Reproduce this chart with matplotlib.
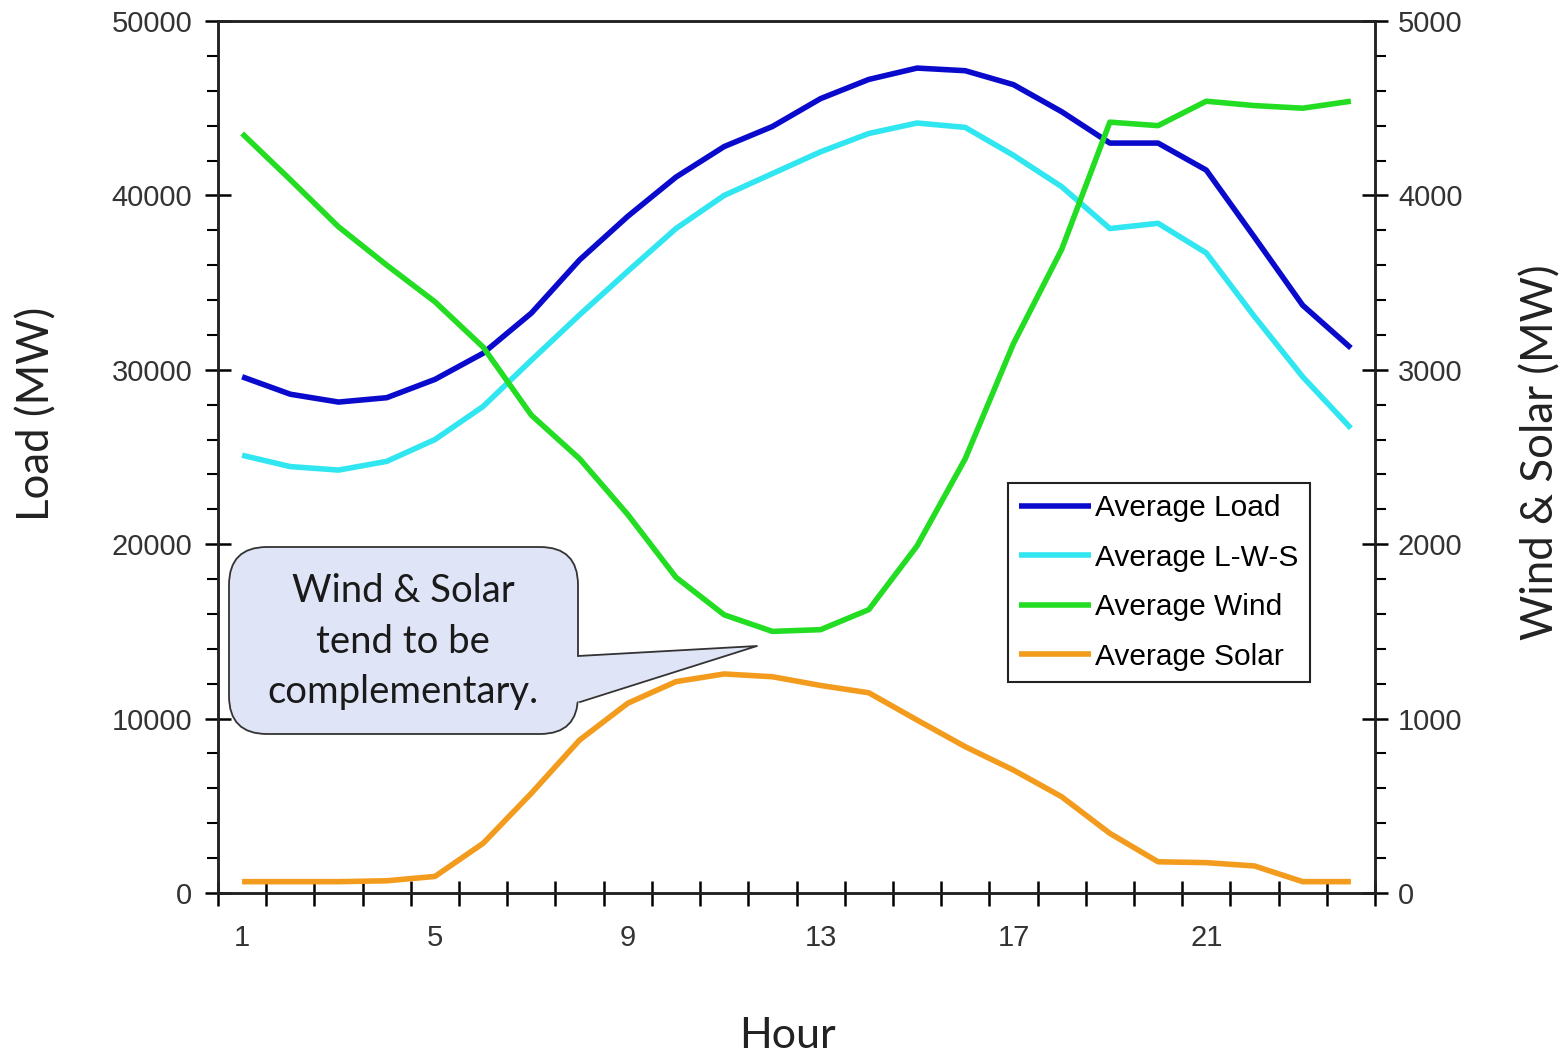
import matplotlib
matplotlib.use("Agg")
import matplotlib.pyplot as plt
import numpy as np
from matplotlib.patches import FancyBboxPatch, Polygon
from matplotlib.lines import Line2D
from matplotlib.transforms import Affine2D

# hourly averages
hours = np.arange(1, 25)
load = [29600, 28600, 28150, 28400, 29450, 30950, 33250, 36300, 38800, 41050, 42800, 43950,
        45550, 46650, 47300, 47150, 46350, 44800, 43000, 43000, 41450, 37600, 33700, 31250]
lws = [25100, 24450, 24250, 24750, 26000, 27900, 30550, 33150, 35650, 38100, 40000, 41250,
       42500, 43550, 44150, 43900, 42300, 40500, 38100, 38400, 36700, 33050, 29600, 26650]
wind = [4355, 4090, 3820, 3600, 3390, 3130, 2740, 2490, 2170, 1810, 1595, 1500,
        1510, 1625, 1990, 2490, 3150, 3690, 4420, 4400, 4540, 4515, 4500, 4540]
solar = [65, 65, 65, 70, 95, 285, 572, 877, 1088, 1212, 1256, 1240,
         1190, 1148, 992, 839, 705, 552, 342, 179, 174, 155, 65, 65]

label_hours = [1, 5, 9, 13, 17, 21]
labels = ["Average Load", "Average L-W-S", "Average Wind", "Average Solar"]
colors = ["#0a0acc", "#30e6f0", "#22dd22", "#f29b1d"]

W, H = 1566, 1058
fig = plt.figure(figsize=(W / 100, H / 100), dpi=100)
ax = fig.add_axes([218 / W, 1 - 893 / H, (1375 - 218) / W, (893 - 21) / H])
ax2 = ax.twinx()

tick_font = "Liberation Sans"
label_font = "Lato"

l1, = ax.plot(hours, load, color=colors[0], lw=4, solid_capstyle="butt")
l2, = ax.plot(hours, lws, color=colors[1], lw=4, solid_capstyle="butt")
l3, = ax2.plot(hours, wind, color=colors[2], lw=4, solid_capstyle="butt")
l4, = ax2.plot(hours, solar, color=colors[3], lw=4, solid_capstyle="butt")

ax.set_xlim(0.5, 24.5)
ax.set_ylim(0, 50000)
ax2.set_ylim(0, 5000)

# category style x axis: ticks between hours, labels every 4th hour
ax.set_xticks(np.arange(0.5, 25, 1))
ax.set_xticklabels([])
ax.set_xticks(label_hours, [str(h) for h in label_hours], minor=True)
ax.tick_params(axis="x", which="major", direction="inout", length=18, width=1.8)
ax.tick_params(axis="x", which="minor", length=0, pad=22, labelsize=21, labelcolor="#333333")

ax.set_yticks(np.arange(0, 50001, 10000))
ax.set_yticks(np.arange(0, 50001, 2000), minor=True)
ax.tick_params(axis="y", which="major", direction="inout", length=19, width=1.8,
               pad=9, labelsize=21, labelcolor="#333333")
ax.tick_params(axis="y", which="minor", direction="out", length=8, width=1.5)

ax2.set_yticks(np.arange(0, 5001, 1000))
ax2.set_yticks(np.arange(0, 5001, 200), minor=True)
ax2.tick_params(axis="y", which="major", direction="inout", length=19, width=1.8,
                pad=7, labelsize=21, labelcolor="#333333")
ax2.tick_params(axis="y", which="minor", direction="out", length=8, width=1.5)

for a in (ax, ax2):
    for s in a.spines.values():
        s.set_linewidth(1.8)
        s.set_color("#222222")
    for t in a.get_xticklabels(minor=True) + a.get_yticklabels():
        t.set_fontfamily(tick_font)

fig.text(37 / W, 1 - 414 / H, "Load (MW)", rotation=90, ha="center", va="center",
         fontsize=31.5, family=label_font, color="#222222")
fig.text(1541 / W, 1 - 452 / H, "Wind & Solar (MW)", rotation=90, ha="center", va="center",
         fontsize=31.5, family=label_font, color="#222222")
fig.text(787 / W, 1 - 1036 / H, "Hour", ha="center", va="center",
         fontsize=31, family=label_font, color="#222222")

leg = ax2.legend([l1, l2, l3, l4], labels, loc="upper left",
                 bbox_to_anchor=(1008 / W, 1 - 483 / H), bbox_transform=fig.transFigure,
                 borderaxespad=0, fancybox=False, framealpha=1, edgecolor="#222222",
                 handlelength=2.4, handletextpad=0.15, labelspacing=0.72, borderpad=0.38,
                 prop={"family": tick_font, "size": 21.5})
leg.get_frame().set_linewidth(1.5)

# callout box, drawn in pixel coordinates (origin top-left)
px = Affine2D().scale(1, -1).translate(0, H)
box_face = "#dfe4f6"
box = FancyBboxPatch((229, 547), 349, 187, boxstyle="round,pad=0,rounding_size=38",
                     transform=px, facecolor=box_face, edgecolor="#333333", lw=1.3, zorder=5)
fig.add_artist(box)
wedge = Polygon([(575, 656), (757, 646), (576, 702)], closed=True, transform=px,
                facecolor=box_face, edgecolor="none", zorder=6)
fig.add_artist(wedge)
fig.add_artist(Line2D([578, 757, 580], [656, 646, 702], transform=px,
                      color="#333333", lw=1.3, zorder=7))
fig.text(403 / W, 1 - 642 / H, "Wind & Solar\ntend to be\ncomplementary.", ha="center",
         va="center", fontsize=27.5, family=label_font, color="#1a1a1a",
         linespacing=1.5, zorder=8)

fig.savefig("out.png", dpi=100)
